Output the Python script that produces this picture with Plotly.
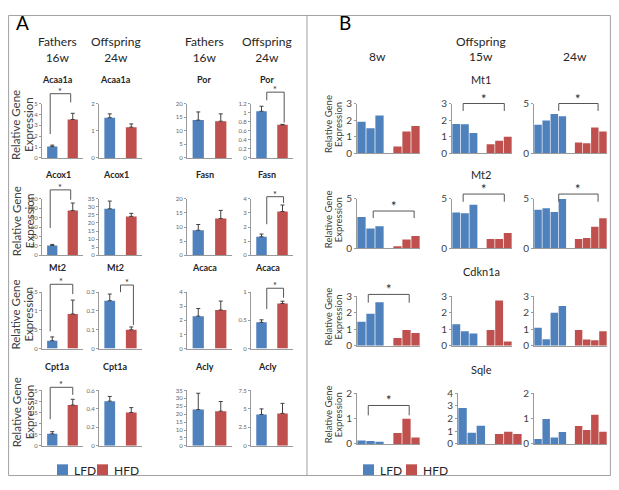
import plotly.graph_objects as go

# the page adds an 8px body margin around the figure; size the figure so the page is 619x490
OFF = 8
W, H = 619 - 2 * OFF, 490 - 2 * OFF
BLUE = "#4F81BD"
RED = "#C0504D"
LINE = "#9A9A9A"
INK = "#262626"
FONT = "Lato, 'Open Sans', sans-serif"

# ---------------- Panel A: mean + SEM, LFD vs HFD ----------------
a_titles = [["Acaa1a", "Acaa1a", "Por", "Por"],
            ["Acox1", "Acox1", "Fasn", "Fasn"],
            ["Mt2", "Mt2", "Acaca", "Acaca"],
            ["Cpt1a", "Cpt1a", "Acly", "Acly"]]
a_lfd = [[1.06, 1.48, 13.9, 1.03],
         [20.7, 28.8, 8.85, 1.31],
         [0.21, 0.255, 2.3, 0.465],
         [0.54, 0.484, 22.9, 4.25]]
a_lfd_sem = [[0.12, 0.14, 3.0, 0.11],
             [2.3, 4.8, 2.05, 0.19],
             [0.10, 0.035, 0.54, 0.045],
             [0.10, 0.051, 10.3, 0.75]]
a_hfd = [[3.53, 1.13, 13.5, 0.73],
         [95, 24.1, 13.0, 3.1],
         [0.92, 0.10, 2.74, 0.80],
         [1.84, 0.361, 21.9, 4.39]]
a_hfd_sem = [[0.57, 0.12, 2.7, 0.01],
             [16, 1.9, 2.9, 0.46],
             [0.37, 0.015, 0.63, 0.04],
             [0.26, 0.053, 6.1, 1.36]]
a_ymax = [[5, 2, 20, 1.2], [120, 35, 20, 4], [1.5, 0.3, 4, 1], [2.5, 0.6, 35, 7.5]]
a_dtick = [[1, 1, 5, 0.2], [20, 5, 5, 1], [0.5, 0.1, 1, 0.5], [0.5, 0.2, 5, 2.5]]
a_headers = ["Fathers<br>16w", "Offspring<br>24w", "Fathers<br>16w", "Offspring<br>24w"]
# significance: row, col, bracket level, left leg end, right leg end, left x, right x
a_sig = [(0, 0, 5.9, 2.2, 5.1, -0.1, 0.9),
         (0, 3, 1.45, 1.27, 0.78, 0.25, 1.08),
         (1, 0, 139, 58, 118, -0.1, 0.9),
         (1, 3, 4.15, 2.2, 3.7, 0.25, 1.05),
         (2, 0, 1.71, 0.46, 1.45, -0.1, 1.0),
         (2, 1, 0.338, 0.30, 0.125, 0.5, 1.1),
         (2, 3, 1.07, 0.7, 0.9, 0.25, 1.05),
         (3, 0, 2.64, 1.2, 2.3, -0.1, 1.0)]

# ---------------- Panel B: individual offspring ----------------
b_genes = ["Mt1", "Mt2", "Cdkn1a", "Sqle"]
b_ages = ["8w", "15w", "24w"]
mt1_lfd = [[1.9, 1.5, 2.28], [1.76, 1.74, 1.22], [2.87, 3.29, 3.94, 3.71]]
mt1_hfd = [[0.4, 1.3, 1.64], [0.54, 0.74, 0.99], [1.06, 1.0, 2.58, 2.19]]
mt2_lfd = [[3.16, 2.0, 2.23], [3.61, 3.55, 4.39], [3.9, 4.06, 3.68, 4.97]]
mt2_hfd = [[0.23, 0.9, 1.26], [0.94, 0.94, 1.55], [0.94, 1.06, 2.19, 3.03]]
cdkn1a_lfd = [[1.45, 1.93, 2.63], [1.3, 0.87, 0.73], [1.08, 0.39, 1.99, 2.4]]
cdkn1a_hfd = [[0.46, 0.95, 0.77], [0.95, 2.73, 0.25], [0.95, 0.37, 0.33, 0.87]]
sqle_lfd = [[0.13, 0.11, 0.09], [2.83, 0.89, 1.43], [0.19, 0.98, 0.25, 0.47]]
sqle_hfd = [[0.43, 0.99, 0.25], [0.79, 0.97, 0.79], [0.71, 0.55, 1.15, 0.48]]
b_lfd = [mt1_lfd, mt2_lfd, cdkn1a_lfd, sqle_lfd]
b_hfd = [mt1_hfd, mt2_hfd, cdkn1a_hfd, sqle_hfd]
b_ymax = [[3, 3, 5], [5, 5, 5], [3, 3, 3], [2, 4, 2]]
b_dtick = [[1, 1, 5], [5, 5, 5], [1, 1, 1], [1, 1, 1]]
# significance: gene, age, bracket level, leg end, left x, right x
b_sig = [(0, 1, 3.0, 2.55, 0.8, 5.6),
         (0, 2, 5.0, 4.25, 2.55, 7.4),
         (1, 0, 3.77, 3.06, 1.3, 5.85),
         (1, 1, 5.48, 4.7, 0.8, 5.6),
         (1, 2, 5.48, 4.7, 2.55, 7.4),
         (2, 0, 3.1, 2.6, 0.75, 5.3),
         (3, 0, 1.52, 1.13, 0.75, 5.3)]

# subplot boxes in page pixels
A_COLS = [(42, 83), (99, 142), (187, 232), (251, 293)]
A_ROWS = [(99, 155), (197, 255), (293, 351), (394, 451)]
B_COLS = [(357, 420), (452, 512), (534, 607)]
B_ROWS = [(99, 150), (197, 248), (297, 348), (397, 449)]


def fx(p):
    return (p - OFF) / W


def fy(p):
    return 1 - (p - OFF) / H


fig = go.Figure()
axes = {}
shapes = []
annots = []
count = [0]


def label(x, y, text, size, color=INK, **kw):
    d = dict(xref="paper", yref="paper", x=fx(x), y=fy(y), text=text, showarrow=False,
             xanchor="center", yanchor="middle",
             font=dict(size=size, color=color, family=FONT))
    d.update(kw)
    annots.append(d)


def new_axes(xbox, ybox, xrange, ymax, dtick, tsize, tcolor):
    count[0] += 1
    n = count[0]
    sfx = "" if n == 1 else str(n)
    axes["xaxis" + sfx] = dict(domain=[fx(xbox[0]), fx(xbox[1])], range=xrange,
                               showline=True, linecolor=LINE, linewidth=1,
                               showticklabels=False, ticks="", showgrid=False,
                               zeroline=False, anchor="y" + sfx, fixedrange=True)
    axes["yaxis" + sfx] = dict(domain=[fy(ybox[1]), fy(ybox[0])], range=[0, ymax],
                               tick0=0, dtick=dtick, showline=True, linecolor=LINE,
                               linewidth=1, ticks="outside", ticklen=2, tickcolor=LINE,
                               tickfont=dict(size=tsize, color=tcolor, family=FONT),
                               showgrid=False, zeroline=False, anchor="x" + sfx,
                               fixedrange=True)
    return sfx


def bracket(sfx, xrange, ymax, x0, x1, level, end0, end1, star_size):
    def dx(v):
        return (v - xrange[0]) / (xrange[1] - xrange[0])

    def dy(v):
        return v / ymax

    xr, yr = "x%s domain" % sfx, "y%s domain" % sfx
    segs = [(x0, end0, x0, level), (x0, level, x1, level), (x1, level, x1, end1)]
    for a, b, c, d in segs:
        shapes.append(dict(type="line", xref=xr, yref=yr, x0=dx(a), y0=dy(b),
                           x1=dx(c), y1=dy(d), line=dict(color="#555555", width=1)))
    annots.append(dict(xref=xr, yref=yr, x=dx((x0 + x1) / 2), y=dy(level),
                       xanchor="center", yanchor="bottom", text="*", showarrow=False,
                       yshift=-5, font=dict(size=star_size, color=INK, family=FONT)))


# ---- panel A ----
a_axes = {}
for r in range(4):
    for c in range(4):
        xr = [-0.5, 1.5]
        sfx = new_axes(A_COLS[c], A_ROWS[r], xr, a_ymax[r][c], a_dtick[r][c], 6, "#666666")
        a_axes[(r, c)] = sfx
        fig.add_trace(go.Bar(
            x=[0, 1], y=[a_lfd[r][c], a_hfd[r][c]],
            marker=dict(color=[BLUE, RED], line=dict(width=0)),
            width=0.5,
            error_y=dict(type="data", symmetric=False,
                         array=[a_lfd_sem[r][c], a_hfd_sem[r][c]], arrayminus=[0, 0],
                         color="#404040", thickness=1, width=2),
            xaxis="x" + sfx, yaxis="y" + sfx, showlegend=False, hoverinfo="skip"))
        cx = (A_COLS[c][0] + A_COLS[c][1]) / 2 - 5
        label(cx, A_ROWS[r][0] - 25, "<b>%s</b>" % a_titles[r][c], 9)
    ymid = (A_ROWS[r][0] + A_ROWS[r][1]) / 2 - 6
    label(16, ymid, "Relative Gene", 11.5, "#404040", textangle=-90)
    label(29, ymid, "Expression", 11.5, "#404040", textangle=-90)

for c in range(4):
    cx = (A_COLS[c][0] + A_COLS[c][1]) / 2 - 5
    label(cx, 43, a_headers[c], 12)

for r, c, level, e0, e1, x0, x1 in a_sig:
    bracket(a_axes[(r, c)], [-0.5, 1.5], a_ymax[r][c], x0, x1, level, e0, e1, 9)

# ---- panel B ----
b_axes = {}
for g in range(4):
    for c in range(3):
        lfd, hfd = b_lfd[g][c], b_hfd[g][c]
        nl, nh = len(lfd), len(hfd)
        xs = list(range(nl)) + list(range(nl + 1, nl + 1 + nh))
        xr = [-0.5, nl + nh + 0.5]
        xbox = B_COLS[c]
        if g == 3 and c == 1:
            xbox = (458, 522)
        sfx = new_axes(xbox, B_ROWS[g], xr, b_ymax[g][c], b_dtick[g][c], 10, "#404040")
        b_axes[(g, c)] = (sfx, xr)
        fig.add_trace(go.Bar(
            x=xs, y=lfd + hfd,
            marker=dict(color=[BLUE] * nl + [RED] * nh, line=dict(width=0)),
            width=0.92, xaxis="x" + sfx, yaxis="y" + sfx,
            showlegend=False, hoverinfo="skip"))
    label(481, B_ROWS[g][0] - 25, b_genes[g], 11)
    ymid = (B_ROWS[g][0] + B_ROWS[g][1]) / 2 - 4
    label(328.5, ymid, "Relative Gene", 9.5, "#404040", textangle=-90)
    label(338.5, ymid, "Expression", 9.5, "#404040", textangle=-90)

label(481, 35, "Offspring", 12)
for c, age in zip([377, 481, 575], b_ages):
    label(c, 51, age, 12)

for g, c, level, end, x0, x1 in b_sig:
    sfx, xr = b_axes[(g, c)]
    bracket(sfx, xr, b_ymax[g][c], x0, x1, level, end, end, 13)

# ---- panel letters, legends, frame ----
label(14, 16, "A", 19, "black", xanchor="left")
label(337, 16, "B", 19, "black", xanchor="left")

for lx in [57, 363]:
    for i, (col, lab) in enumerate([(BLUE, "LFD"), (RED, "HFD")]):
        x0 = lx + i * 40 + (3 * i if lx > 300 else 0)
        shapes.append(dict(type="rect", xref="paper", yref="paper", x0=fx(x0), x1=fx(x0 + 11),
                           y0=fy(482), y1=fy(470), fillcolor=col, line=dict(width=0)))
        label(x0 + 15, 476, lab, 12, xanchor="left")

shapes.append(dict(type="rect", xref="paper", yref="paper", x0=0.001, x1=0.999,
                   y0=0.001, y1=0.999, line=dict(color="#A0A0A0", width=1)))
shapes.append(dict(type="line", xref="paper", yref="paper", x0=fx(307), x1=fx(307),
                   y0=0, y1=1, line=dict(color="#A0A0A0", width=1)))

fig.update_layout(width=W, height=H, autosize=False,
                  margin=dict(l=0, r=0, t=0, b=0),
                  paper_bgcolor="white", plot_bgcolor="white",
                  bargap=0.5, showlegend=False,
                  shapes=shapes, annotations=annots, **axes)

fig.write_html("out.html")
